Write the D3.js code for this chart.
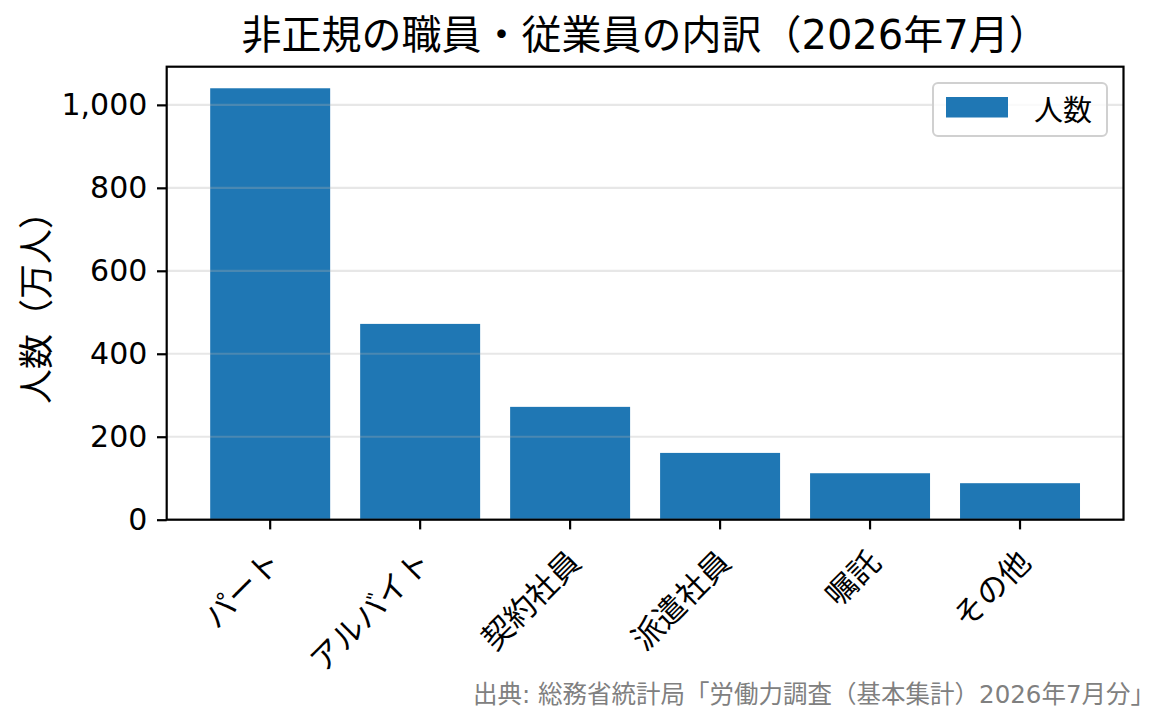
<!DOCTYPE html>
<html>
<head>
<meta charset="utf-8">
<script src="https://cdn.jsdelivr.net/npm/d3@7"></script>
<style>
  html, body { margin: 0; padding: 0; background: #fff; }
  svg { display: block; }
</style>
</head>
<body>
<svg id="chart" width="1165" height="725"></svg>
<script>
const categories = ["パート", "アルバイト", "契約社員", "派遣社員", "嘱託", "その他"];
const values = [1040, 472, 272, 161, 112, 88];
const yTicks = [0, 200, 400, 600, 800, 1000];
const seriesName = "人数";
const titleText = "非正規の職員・従業員の内訳（2026年7月）";
const yLabelText = "人数（万人）";
const sourceText = "出典: 総務省統計局「労働力調査（基本集計）2026年7月分」";

const CJK = "'Noto Sans CJK JP', 'Noto Sans CJK SC', sans-serif";
const MIX = "'DejaVu Sans', 'Noto Sans CJK JP', sans-serif";

const L = 166.7, R = 1123.5, T = 66.7, B = 519.7;
const svg = d3.select("#chart");

const x = d3.scaleBand().domain(categories).range([L, R]).paddingInner(0.2).paddingOuter(0.29);
const y = d3.scaleLinear().domain([0, 1092]).range([B, T]);

// bars
svg.append("g").selectAll("rect").data(values).join("rect")
  .attr("x", (d, i) => x(categories[i]))
  .attr("width", x.bandwidth())
  .attr("y", d => y(d))
  .attr("height", d => y(0) - y(d))
  .attr("fill", "#1f77b4");

// grid (above bars, translucent)
svg.append("g").selectAll("line").data(yTicks).join("line")
  .attr("x1", L).attr("x2", R)
  .attr("y1", d => y(d)).attr("y2", d => y(d))
  .attr("stroke", "#b0b0b0").attr("stroke-opacity", 0.3).attr("stroke-width", 2.2);

// y axis
const yAxis = d3.axisLeft(y).tickValues(yTicks).tickFormat(d3.format(",")).tickSize(9.7).tickPadding(9.7);
const gy = svg.append("g").attr("transform", `translate(${L},0)`).call(yAxis);
gy.select(".domain").remove();
gy.selectAll(".tick line").attr("stroke", "#000").attr("stroke-width", 2.2);
gy.selectAll(".tick text").attr("font-family", MIX).attr("font-size", 30).attr("fill", "#000");

// x axis
const xAxis = d3.axisBottom(x).tickSize(9.7).tickFormat("");
const gx = svg.append("g").attr("transform", `translate(0,${B})`).call(xAxis);
gx.select(".domain").remove();
gx.selectAll(".tick line").attr("stroke", "#000").attr("stroke-width", 2.2);
gx.selectAll(".tick").append("text")
  .text(d => d)
  .attr("font-family", CJK).attr("font-size", 31).attr("fill", "#000")
  .attr("text-anchor", "end")
  .attr("dominant-baseline", "central")
  .attr("transform", "translate(3,35) rotate(-45)");

// frame
svg.append("rect").attr("x", L).attr("y", T).attr("width", R - L).attr("height", B - T)
  .attr("fill", "none").attr("stroke", "#000").attr("stroke-width", 2.2);

// title
svg.append("text").text(titleText)
  .attr("x", (L + R) / 2).attr("y", 48.5)
  .attr("text-anchor", "middle")
  .attr("font-family", MIX).attr("font-size", 40).attr("fill", "#000");

// y label
svg.append("text").text(yLabelText)
  .attr("transform", `translate(49,299) rotate(-90)`)
  .attr("text-anchor", "middle")
  .attr("font-family", CJK).attr("font-size", 35).attr("fill", "#000");

// legend
const lg = svg.append("g");
lg.append("rect").attr("x", 933).attr("y", 83).attr("width", 174).attr("height", 53)
  .attr("rx", 5).attr("ry", 5)
  .attr("fill", "#fff").attr("fill-opacity", 0.8)
  .attr("stroke", "#d0d0d0").attr("stroke-width", 2);
lg.append("rect").attr("x", 946).attr("y", 97).attr("width", 62).attr("height", 20.5).attr("fill", "#1f77b4");
lg.append("text").text(seriesName).attr("x", 1034).attr("y", 120.5)
  .attr("font-family", CJK).attr("font-size", 29).attr("fill", "#000");

// source
svg.append("text").text(sourceText)
  .attr("x", 1155).attr("y", 703)
  .attr("text-anchor", "end")
  .attr("font-family", MIX).attr("font-size", 24.5).attr("fill", "#808080");
</script>
</body>
</html>
